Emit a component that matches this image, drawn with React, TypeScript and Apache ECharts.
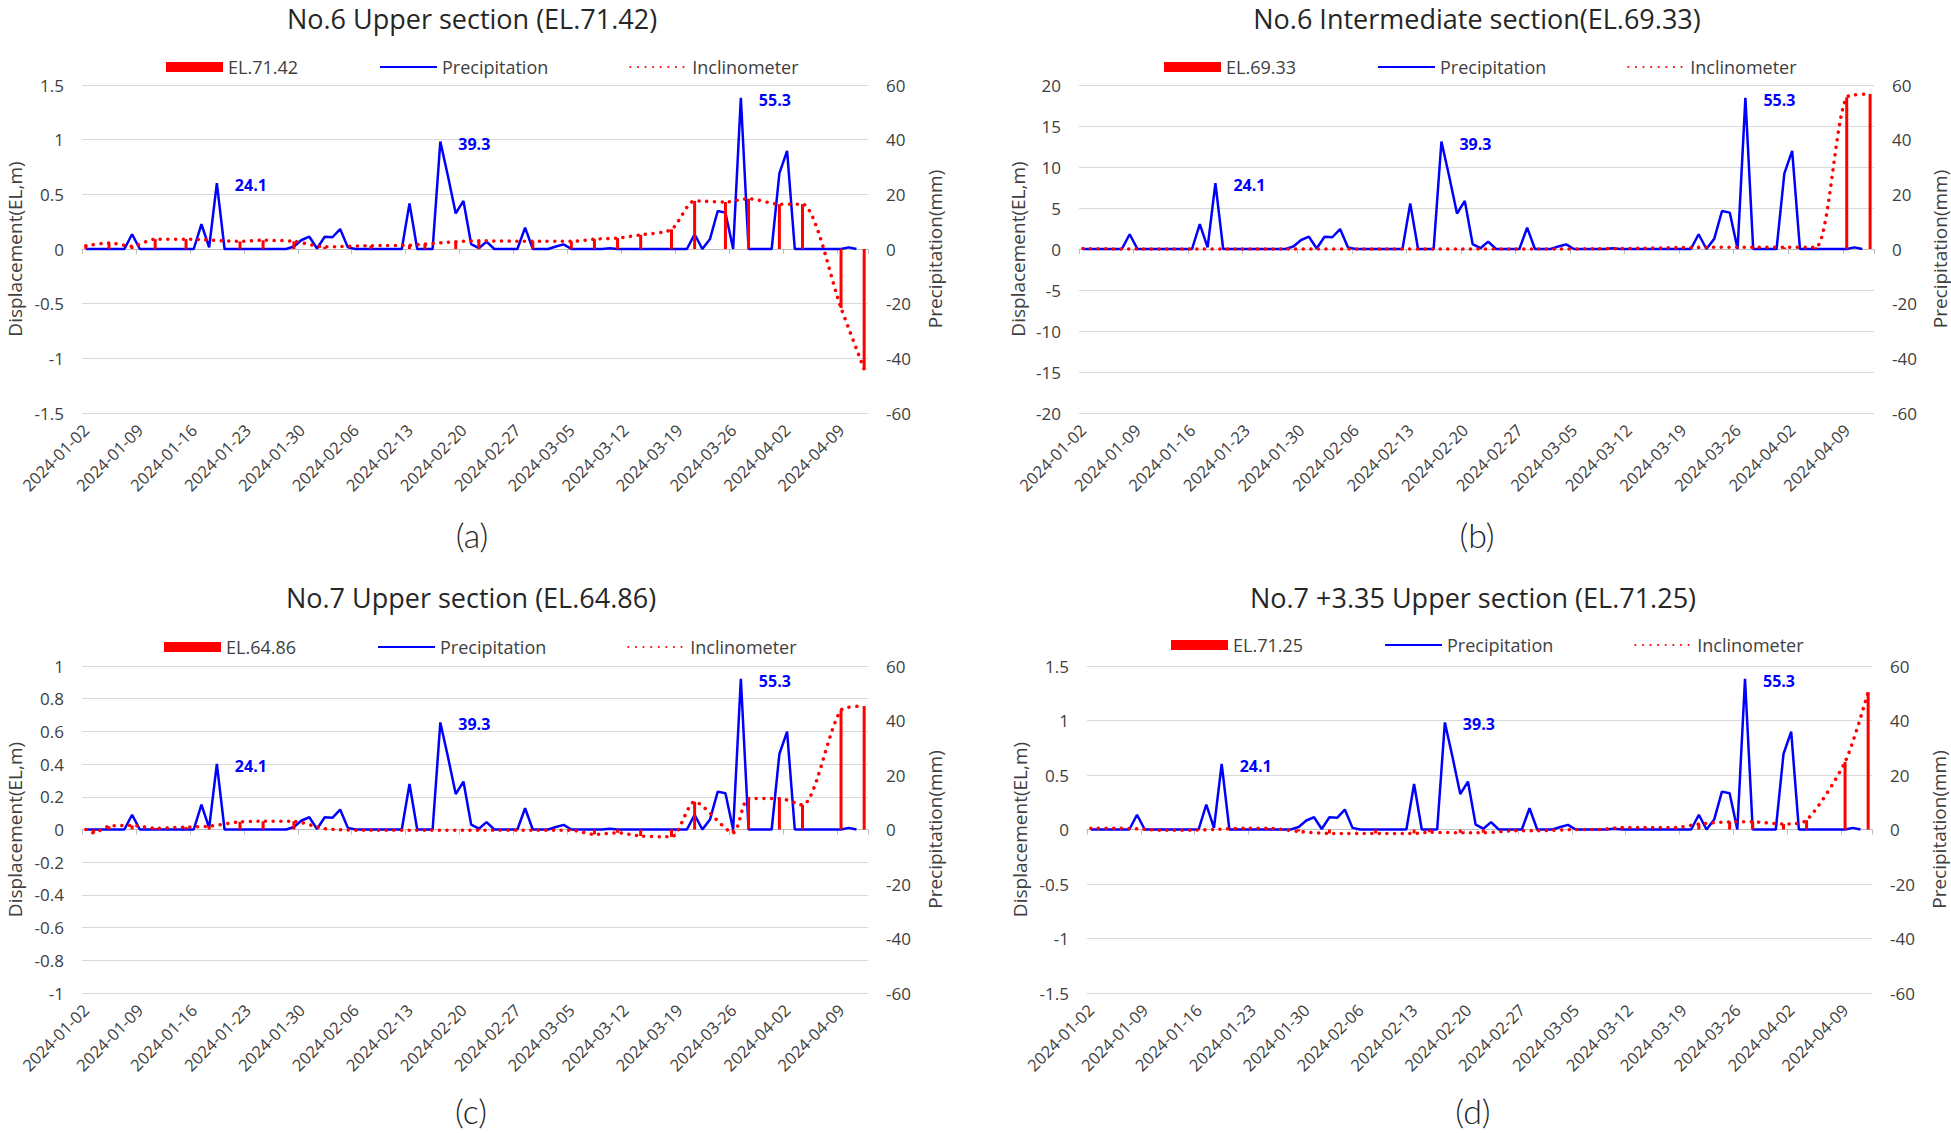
import React, { useEffect, useRef } from "react";
import * as echarts from "echarts";

// Daily categories, 2024-01-02 .. 2024-04-12
const START_DATE = Date.UTC(2024, 0, 2);
const DAY_COUNT = 102;
const dates: string[] = Array.from({ length: DAY_COUNT }, (_, i) =>
  new Date(START_DATE + i * 86400000).toISOString().slice(0, 10)
);

// Daily precipitation (mm), shared by all four sections
const precipitation: number[] = [
  0, 0, 0, 0, 0, 0, 5.4, 0, 0, 0,
  0, 0, 0, 0, 0, 9.1, 0.6, 24.1, 0, 0,
  0, 0, 0, 0, 0, 0, 0, 0.9, 3.3, 4.5,
  0.2, 4.5, 4.3, 7.3, 0.6, 0, 0, 0, 0, 0,
  0, 0, 16.7, 0, 0, 0, 39.3, 26.5, 13.0, 17.6,
  1.8, 0.3, 2.7, 0, 0, 0, 0, 7.8, 0, 0,
  0, 0.9, 1.7, 0, 0, 0, 0, 0, 0.3, 0,
  0, 0, 0, 0, 0, 0, 0, 0, 0, 5.4,
  0, 3.7, 13.9, 13.3, 0, 55.3, 0, 0, 0, 0,
  27.7, 35.9, 0, 0, 0, 0, 0, 0, 0, 0.6,
  0,
];
// Days whose rainfall is annotated
const precipLabelDays = [17, 46, 85];

// Inclinometer readings (day index -> displacement)
const daysA = [0, 3, 6, 9, 13, 20, 23, 27, 31, 37, 42, 44, 48, 51, 58, 63, 66, 69, 72, 76, 79, 83, 86, 90, 93, 98, 101];
const dispA = [0.03, 0.055, 0.025, 0.09, 0.09, 0.07, 0.08, 0.07, 0.02, 0.03, 0.035, 0.045, 0.067, 0.075, 0.07, 0.07, 0.09, 0.1, 0.13, 0.18, 0.44, 0.43, 0.46, 0.41, 0.41, -0.54, -1.1];

const daysB = [0, 6, 13, 20, 27, 37, 48, 58, 69, 79, 86, 90, 94, 98, 101];
const dispB = [0.05, 0, 0, 0, 0, 0, 0, 0, 0.05, 0.2, 0.2, 0.2, 0.2, 18.5, 18.9];

const daysC = [0, 1, 3, 6, 9, 13, 16, 20, 23, 27, 31, 37, 44, 51, 58, 63, 66, 69, 72, 76, 79, 84, 86, 90, 93, 98, 101];
const dispC = [0, -0.02, 0.02, 0.025, 0.008, 0.015, 0.02, 0.047, 0.05, 0.05, 0.005, -0.005, -0.005, -0.005, -0.005, -0.005, -0.03, -0.02, -0.04, -0.045, 0.17, -0.02, 0.19, 0.19, 0.15, 0.73, 0.755];

const daysD = [0, 3, 6, 9, 13, 16, 20, 23, 27, 31, 37, 42, 44, 48, 51, 55, 58, 63, 66, 69, 72, 76, 79, 83, 86, 90, 93, 98, 101];
const dispD = [0.012, 0.012, 0.006, -0.006, -0.006, 0, 0.012, 0.012, -0.018, -0.036, -0.036, -0.036, -0.025, -0.03, -0.03, -0.012, -0.012, 0, 0, 0.018, 0.018, 0.018, 0.05, 0.07, 0.07, 0.05, 0.085, 0.62, 1.26];

const RED = "#ff0000";
const BLUE = "#0000ff";
const TEXT = "#404040";
const FONT = "'Open Sans', 'Noto Sans', sans-serif";

type Panel = {
  title: string;
  letter: string;
  barName: string;
  days: number[];
  disp: number[];
  yMin: number;
  yMax: number;
  yStep: number;
  grid: { left: number; top: number; width: number; height: number };
  legendLeft: number;
  legendTop: number;
  titleX: number;
  titleY: number;
  letterY: number;
  leftNameGap: number;
  rightNameGap: number;
};

const panels: Panel[] = [
  {
    title: "No.6 Upper section (EL.71.42)", letter: "(a)", barName: "EL.71.42",
    days: daysA, disp: dispA, yMin: -1.5, yMax: 1.5, yStep: 0.5,
    grid: { left: 82, top: 85, width: 786, height: 328 },
    legendLeft: 166, legendTop: 58, titleX: 472, titleY: 18, letterY: 534,
    leftNameGap: 58, rightNameGap: 57,
  },
  {
    title: "No.6 Intermediate section(EL.69.33)", letter: "(b)", barName: "EL.69.33",
    days: daysB, disp: dispB, yMin: -20, yMax: 20, yStep: 5,
    grid: { left: 1079, top: 85, width: 795, height: 328 },
    legendLeft: 1164, legendTop: 58, titleX: 1477, titleY: 18, letterY: 534,
    leftNameGap: 52, rightNameGap: 56,
  },
  {
    title: "No.7 Upper section (EL.64.86)", letter: "(c)", barName: "EL.64.86",
    days: daysC, disp: dispC, yMin: -1, yMax: 1, yStep: 0.2,
    grid: { left: 82, top: 666, width: 786, height: 327 },
    legendLeft: 164, legendTop: 638, titleX: 471, titleY: 597, letterY: 1110,
    leftNameGap: 58, rightNameGap: 57,
  },
  {
    title: "No.7 +3.35 Upper section (EL.71.25)", letter: "(d)", barName: "EL.71.25",
    days: daysD, disp: dispD, yMin: -1.5, yMax: 1.5, yStep: 0.5,
    grid: { left: 1087, top: 666, width: 785, height: 327 },
    legendLeft: 1171, legendTop: 636, titleX: 1473, titleY: 597, letterY: 1110,
    leftNameGap: 58, rightNameGap: 57,
  },
];

function spread(days: number[], vals: number[]): (number | null)[] {
  const out: (number | null)[] = new Array(DAY_COUNT).fill(null);
  days.forEach((d, i) => {
    out[d] = vals[i];
  });
  return out;
}

function buildOption(): echarts.EChartsOption {
  const grid: any[] = [];
  const xAxis: any[] = [];
  const yAxis: any[] = [];
  const series: any[] = [];
  const legend: any[] = [];
  const graphic: any[] = [];

  panels.forEach((p, g) => {
    grid.push({ ...p.grid, containLabel: false });

    // zero line with weekly ticks
    xAxis.push({
      gridIndex: g, type: "category", data: dates, boundaryGap: true, position: "bottom",
      axisLine: { show: true, onZero: true, lineStyle: { color: "#bfbfbf", width: 1 } },
      axisTick: { show: true, interval: 6, length: 5, lineStyle: { color: "#bfbfbf" } },
      axisLabel: { show: false }, splitLine: { show: false },
    });
    // date labels along the bottom of the plot
    xAxis.push({
      gridIndex: g, type: "category", data: dates, boundaryGap: true, position: "bottom",
      axisLine: { show: false, onZero: false }, axisTick: { show: false },
      axisLabel: { interval: 6, rotate: 45, fontSize: 16.5, color: TEXT, margin: 14, fontFamily: FONT },
      splitLine: { show: false },
    });

    yAxis.push({
      gridIndex: g, type: "value", position: "left", min: p.yMin, max: p.yMax, interval: p.yStep,
      name: "Displacement(EL,m)", nameLocation: "middle", nameRotate: 90, nameGap: p.leftNameGap,
      nameTextStyle: { fontSize: 19, color: TEXT, fontFamily: FONT },
      axisLine: { show: false }, axisTick: { show: false },
      axisLabel: {
        fontSize: 17, color: TEXT, margin: 18, fontFamily: FONT,
        formatter: (v: number) => String(Math.round(v * 100) / 100),
      },
      splitLine: { show: true, lineStyle: { color: "#d9d9d9", width: 1 } },
    });
    yAxis.push({
      gridIndex: g, type: "value", position: "right", min: -60, max: 60, interval: 20,
      name: "Precipitation(mm)", nameLocation: "middle", nameRotate: 90, nameGap: p.rightNameGap,
      nameTextStyle: { fontSize: 19, color: TEXT, fontFamily: FONT },
      axisLine: { show: false }, axisTick: { show: false },
      axisLabel: { fontSize: 17, color: TEXT, margin: 18, fontFamily: FONT },
      splitLine: { show: false },
    });

    const dispFull = spread(p.days, p.disp);
    const precipData = precipitation.map((v, i) =>
      precipLabelDays.includes(i)
        ? {
            value: v,
            label: {
              show: true, position: "right", distance: 18, offset: [0, 2],
              color: BLUE, fontWeight: "bold", fontSize: 16, fontFamily: FONT,
              formatter: "{c}",
            },
          }
        : v
    );

    series.push({
      type: "bar", name: p.barName, xAxisIndex: 2 * g, yAxisIndex: 2 * g,
      data: dispFull, barWidth: 3, itemStyle: { color: RED }, z: 3,
    });
    series.push({
      type: "line", name: "Precipitation", xAxisIndex: 2 * g, yAxisIndex: 2 * g + 1,
      data: precipData, symbol: "circle", symbolSize: 0, showSymbol: true,
      lineStyle: { color: BLUE, width: 2.5 }, itemStyle: { color: BLUE }, z: 2,
    });
    series.push({
      type: "line", name: "Inclinometer", xAxisIndex: 2 * g, yAxisIndex: 2 * g,
      data: dispFull, connectNulls: true, smooth: 0.25, symbol: "none",
      lineStyle: { color: RED, width: 3.5, type: [0.1, 7.5], cap: "round" },
      itemStyle: { color: RED }, z: 4,
    });

    legend.push({
      left: p.legendLeft, top: p.legendTop, padding: 0, itemGap: 81,
      itemWidth: 57, itemHeight: 10, orient: "horizontal",
      textStyle: { fontSize: 18, color: TEXT, fontFamily: FONT },
      data: [
        { name: p.barName, icon: "rect" },
        { name: "Precipitation", itemStyle: { opacity: 0 } },
        { name: "Inclinometer", itemStyle: { opacity: 0 } },
      ],
    });

    graphic.push({
      type: "text", x: p.titleX, y: p.titleY,
      style: {
        text: p.title, fontSize: 27, fill: "#262626", fontFamily: FONT,
        align: "center", verticalAlign: "middle",
      },
    });
    graphic.push({
      type: "text", x: p.titleX, y: p.letterY,
      style: {
        text: p.letter, fontSize: 34, fill: "#262626", fontFamily: "Lato, 'Open Sans', sans-serif",
        fontWeight: 300, align: "center", verticalAlign: "middle",
      },
    });
  });

  return {
    animation: false,
    backgroundColor: "#ffffff",
    textStyle: { fontFamily: FONT },
    grid, xAxis, yAxis, series, legend, graphic,
  };
}

export default function App() {
  const ref = useRef<HTMLDivElement>(null);
  useEffect(() => {
    if (!ref.current) return;
    const chart = echarts.init(ref.current, undefined, { renderer: "svg" });
    chart.setOption(buildOption());
    return () => chart.dispose();
  }, []);
  return (
    <div
      ref={ref}
      style={{ position: "absolute", left: 0, top: 0, width: 1951, height: 1133, background: "#fff" }}
    />
  );
}
